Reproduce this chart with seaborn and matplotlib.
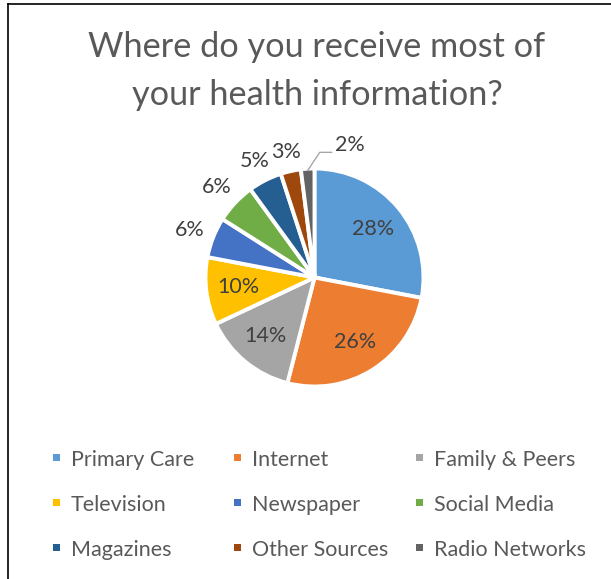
import numpy as np
import matplotlib
matplotlib.use("Agg")
import matplotlib.pyplot as plt
from matplotlib.lines import Line2D
from matplotlib.patches import Rectangle
import seaborn as sns

# Survey responses: main source of health information (percent of respondents)
categories = ["Primary Care", "Internet", "Family & Peers", "Television",
              "Newspaper", "Social Media", "Magazines", "Other Sources",
              "Radio Networks"]
shares = [28, 26, 14, 10, 6, 6, 5, 3, 2]
palette_hex = ["#5B9BD5", "#ED7D31", "#A5A5A5", "#FFC000", "#4472C4",
               "#70AD47", "#255E91", "#9E480E", "#636363"]
title_lines = ["Where do you receive most of", "your health information?"]

sns.set_theme(style="white")
plt.rcParams["font.family"] = ["Lato", "DejaVu Sans"]

W, H = 611, 579
fig = plt.figure(figsize=(W / 100, H / 100), dpi=100)
fig.patch.set_facecolor("white")


def fx(px):
    return px / W


def fy(py):
    return 1 - py / H


TEXT = "#595959"
LABEL = "#404040"

# chart frame (left and top edges)
fig.add_artist(Line2D([fx(8), fx(8)], [0, fy(3.5)], transform=fig.transFigure,
                      color="black", lw=1.2, solid_capstyle="projecting"))
fig.add_artist(Line2D([fx(8), 1], [fy(3.5), fy(3.5)], transform=fig.transFigure,
                      color="black", lw=1.2, solid_capstyle="projecting"))

# title
for line, base in zip(title_lines, [57, 105]):
    fig.text(fx(317), fy(base), line, ha="center", va="baseline",
             fontsize=24.7, color=TEXT)

# pie
cx, cy, R = 314.5, 277.5, 109.0
ax = fig.add_axes([fx(cx - R), fy(cy + R), 2 * R / W, 2 * R / H])
colors = sns.color_palette(palette_hex)
wedges, _ = ax.pie(shares, colors=colors, startangle=90, counterclock=False,
                   radius=1.0, normalize=True,
                   wedgeprops=dict(edgecolor="white", linewidth=2.8))
ax.set_xlim(-1, 1)
ax.set_ylim(-1, 1)
ax.set_aspect("equal")
ax.axis("off")

label_fs = 15.5
hw, hh = 13.0 / R, 9.0 / R
for w, v in zip(wedges, shares):
    mid = np.deg2rad((w.theta1 + w.theta2) / 2)
    ux, uy = np.cos(mid), np.sin(mid)
    txt = f"{v}%"
    if v >= 10:
        ax.text(0.70 * ux, 0.70 * uy, txt, ha="center", va="center",
                fontsize=label_fs, color=LABEL)
    elif v == min(shares):
        ax0 = np.array([0.985 * ux, 0.985 * uy])
        p1 = ax0 + np.array([12, 18]) / R
        p2 = p1 + np.array([12, 0]) / R
        ax.plot([ax0[0], p1[0], p2[0]], [ax0[1], p1[1], p2[1]],
                color="#A6A6A6", lw=1.0, clip_on=False)
        ax.text(p2[0] + 3 / R, p2[1] + 7 / R, txt, ha="left", va="center",
                fontsize=label_fs, color=LABEL)
    else:
        r = 1.09 + abs(ux) * hw + abs(uy) * hh
        ax.text(r * ux, r * uy, txt, ha="center", va="center_baseline",
                fontsize=label_fs, color=LABEL)

# legend: three columns, three rows
col_text_x = [71, 252, 434]
row_base_y = [466, 511, 556]
sq = 7
for i, (name, c) in enumerate(zip(categories, colors)):
    col, row = i % 3, i // 3
    tx, by = col_text_x[col], row_base_y[row]
    mx, my = tx - 14.5, by - 8.5
    fig.add_artist(Rectangle((fx(mx - sq / 2), fy(my + sq / 2)), sq / W, sq / H,
                             transform=fig.transFigure, facecolor=c,
                             edgecolor="none"))
    fig.text(fx(tx), fy(by), name, ha="left", va="baseline",
             fontsize=label_fs, color=TEXT)

fig.savefig("out.png", dpi=100, facecolor="white")
